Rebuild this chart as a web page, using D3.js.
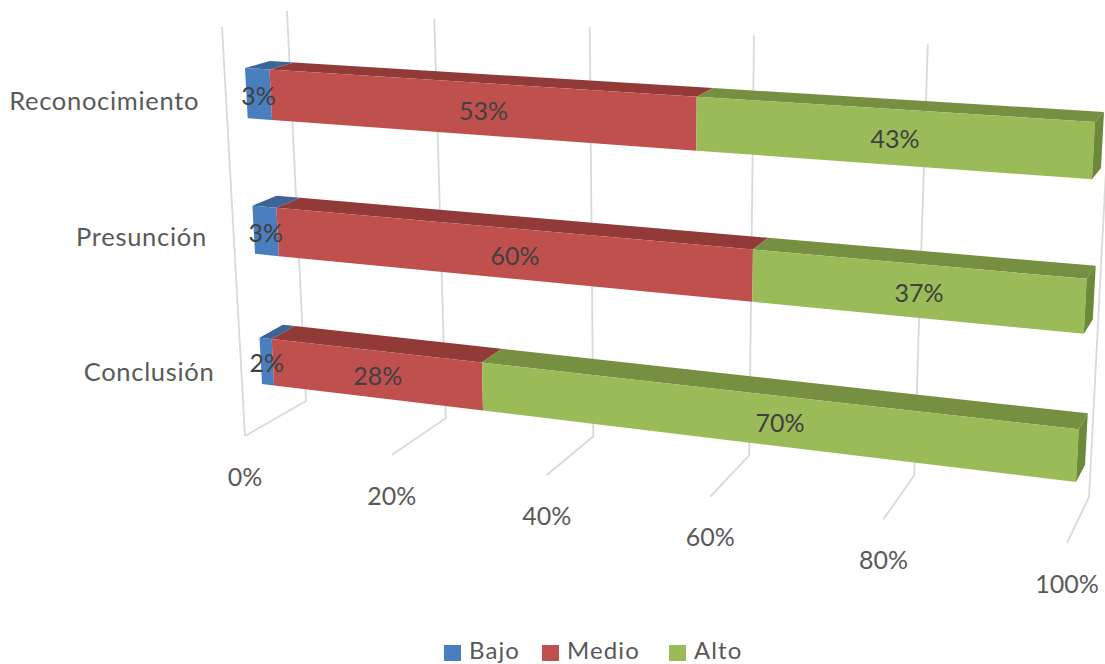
<!DOCTYPE html>
<html>
<head>
<meta charset="utf-8">
<script src="https://cdnjs.cloudflare.com/ajax/libs/d3/7.8.5/d3.min.js"></script>
<style>
html,body{margin:0;padding:0;background:#fff;overflow:hidden}
svg{display:block}
text{font-family:Lato,"Open Sans",sans-serif}
</style>
</head>
<body>
<svg id="chart" width="1105" height="664"></svg>
<script>
// ---- data ----
const categories = ["Reconocimiento", "Presunción", "Conclusión"];
const seriesNames = ["Bajo", "Medio", "Alto"];
const bajo  = [3.3, 3.3, 1.7];
const medio = [53.3, 60, 28.3];
const alto  = [43.4, 36.7, 70];
const axisTicks = [0, 20, 40, 60, 80, 100];

// ---- styles ----
const frontColors = {Bajo:"#4a7ebf", Medio:"#c0504d", Alto:"#9bbb59"};
const topColors   = {Bajo:"#3b6596", Medio:"#923a38", Alto:"#768f40"};
const sideColor = "#6c8839";
const gridColor = "#d9d9d9";

// ---- perspective model: the corners of the 3D boxes as seen on screen ----
const gridBox = {
  fbl:[245,436], fbr:[1067,543], ftl:[222,27],  ftr:[1095,40],
  bbl:[306,401], bbr:[1089,497], btl:[287,11],  btr:[1112,54]
};
const barBox = {
  fbl:[262,384], fbr:[1076,482], ftl:[245,68],  ftr:[1095,122],
  bbl:[285,370], bbr:[1085,465], btl:[270,61],  btr:[1104,112]
};
const perspV = 1.15, perspH = 1.05;
const warp = (t,k) => t/(t + k*(1-t));
const lerp = (a,b,t) => [a[0]+(b[0]-a[0])*t, a[1]+(b[1]-a[1])*t];
function project(box,u,h,d){
  const front = lerp(lerp(box.fbl,box.fbr,u), lerp(box.ftl,box.ftr,u), h);
  const back  = lerp(lerp(box.bbl,box.bbr,u), lerp(box.btl,box.btr,u), h);
  return lerp(front,back,d);
}

const xScale = d3.scaleLinear().domain([0,100]).range([0,1]);
const u = v => warp(xScale(v), perspV);
const band = d3.scaleBand().domain(categories).range([1,0]).paddingInner(0.64).paddingOuter(0);
const hw = h => warp(h, perspH);
const labelPos = d3.scalePoint().domain(categories).range([0.823,0.158]);
const labelH = c => warp(labelPos(c), 1.02);

const rows = categories.map((c,i)=>({category:c, Bajo:bajo[i], Medio:medio[i], Alto:alto[i]}));
const stacked = d3.stack().keys(seriesNames)(rows);

const svg = d3.select("#chart");
const poly = pts => d3.line()(pts) + "Z";
const fmt = v => d3.format(".0f")(v) + "%";

// ---- gridlines ----
const grid = svg.append("g").attr("stroke",gridColor).attr("stroke-width",1.8).attr("fill","none");
axisTicks.forEach(t=>{
  const a = project(gridBox,u(t),1,1), b = project(gridBox,u(t),0,1), c = project(gridBox,u(t),0,0);
  grid.append("path").attr("d", d3.line()([a,b,c]));
});
grid.append("path").attr("d", d3.line()([project(gridBox,0,1,0), project(gridBox,0,0,0)]));

// ---- axis labels ----
svg.append("g").selectAll("text").data(axisTicks).join("text")
  .attr("x", t=>project(gridBox,u(t),0,0)[0])
  .attr("y", t=>project(gridBox,u(t),0,0)[1]+41)
  .attr("dy","0.35em").attr("text-anchor","middle")
  .attr("fill","#595959").attr("font-size",25)
  .text(t=>t+"%");

// ---- category labels ----
svg.append("g").selectAll("text").data(categories).join("text")
  .attr("x", c=>project(gridBox,0,labelH(c),0)[0]-27)
  .attr("y", c=>project(gridBox,0,labelH(c),0)[1])
  .attr("dy","0.35em").attr("text-anchor","end")
  .attr("fill","#595959").attr("font-size",25.5).attr("letter-spacing",0.7)
  .text(c=>c);

// ---- bars ----
const labels = [];
const barsG = svg.append("g");
stacked.forEach(s=>{
  s.forEach(seg=>{
    const cat = seg.data.category;
    const h0 = hw(band(cat)), h1 = hw(band(cat)+band.bandwidth());
    const u0 = u(seg[0]), u1 = u(seg[1]);
    const P = (uu,h,d)=>project(barBox,uu,h,d);
    barsG.append("path").attr("fill",topColors[s.key])
      .attr("d",poly([P(u0,h1,0),P(u1,h1,0),P(u1,h1,1),P(u0,h1,1)]));
    barsG.append("path").attr("fill",frontColors[s.key])
      .attr("d",poly([P(u0,h0,0),P(u1,h0,0),P(u1,h1,0),P(u0,h1,0)]));
    if(seg[1]>=99.99){
      barsG.append("path").attr("fill",sideColor)
        .attr("d",poly([P(u1,h0,0),P(u1,h1,0),P(u1,h1,1),P(u1,h0,1)]));
    }
    const pts=[P(u0,h0,0),P(u1,h0,0),P(u1,h1,0),P(u0,h1,0)];
    labels.push({x:d3.mean(pts,p=>p[0]), y:d3.mean(pts,p=>p[1])+2, text:fmt(seg[1]-seg[0])});
  });
});

// ---- data labels ----
svg.append("g").selectAll("text").data(labels).join("text")
  .attr("x",d=>d.x).attr("y",d=>d.y)
  .attr("dy","0.35em").attr("text-anchor","middle")
  .attr("fill","#404040").attr("font-size",25)
  .text(d=>d.text);

// ---- legend ----
const legendX = {Bajo:444, Medio:542, Alto:669};
const legend = svg.append("g").selectAll("g").data(seriesNames).join("g")
  .attr("transform",d=>`translate(${legendX[d]},645)`);
legend.append("rect").attr("width",17).attr("height",16).attr("fill",d=>frontColors[d]);
legend.append("text").attr("x",25).attr("y",14)
  .attr("fill","#595959").attr("font-size",24).attr("letter-spacing",1.1).text(d=>d);
</script>
</body>
</html>
